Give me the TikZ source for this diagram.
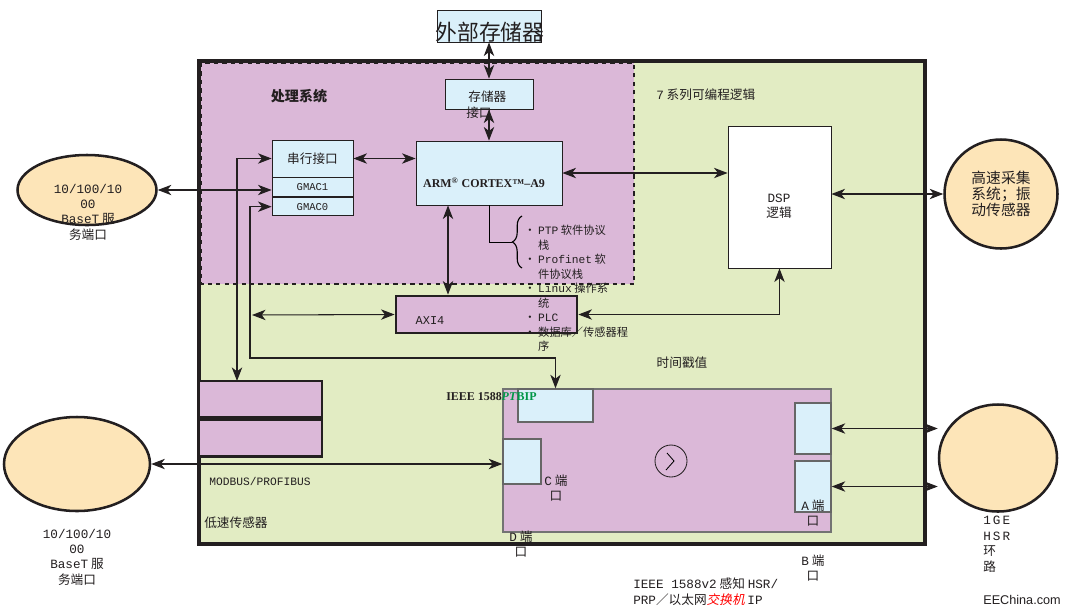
\documentclass[tikz,border=0pt]{standalone}
\usepackage{fontspec}
\setmainfont{Noto Sans CJK SC}
\newfontfamily\mono{Liberation Mono}
\newfontfamily\bserif{Liberation Serif}
\newfontfamily\wsans{Liberation Sans}
\newfontfamily\cjkslant[FakeSlant=0.2]{Noto Sans CJK SC}
\usetikzlibrary{arrows.meta, calc, shapes.geometric, decorations.pathreplacing}
\definecolor{pinkfill}{RGB}{219,184,216}
\definecolor{fpgagreen}{RGB}{226,236,195}
\definecolor{iceblue}{RGB}{218,240,250}
\definecolor{sandfill}{RGB}{253,229,184}
\definecolor{inkline}{RGB}{35,31,32}
\definecolor{ptpgreen}{RGB}{0,150,70}
\newcommand\upx{0.025cm}

\begin{document}
\begin{tikzpicture}[x=\upx, y=-\upx,
  every node/.style={inner sep=0pt, text=inkline},
  sz/.style 2 args={minimum width=#1*\upx, minimum height=#2*\upx},
  txt/.style={font=\fontsize{9pt}{11pt}\selectfont},
  small/.style={font=\fontsize{8pt}{10.3pt}\selectfont},
  bluebox/.style={draw=inkline, fill=iceblue, line width=0.6pt},
  greybox/.style={draw=black!60, fill=iceblue, line width=1pt},
  pinkbox/.style={draw=inkline, fill=pinkfill, line width=2pt},
  port/.style={ellipse, draw=inkline, fill=sandfill, line width=1.8pt},
  dbl/.style={{Stealth[length=3.4mm,width=2.6mm,inset=1mm]}-{Stealth[length=3.4mm,width=2.6mm,inset=1mm]}, line width=0.75pt, draw=inkline}]
  \fill[white] (0,0) rectangle (1065,614);
  \useasboundingbox (0,0) rectangle (1065,614);
  % FPGA fabric and processing system
  \draw[fill=fpgagreen, draw=inkline, line width=2.2pt] (199,61) rectangle (925,544);
  \draw[fill=pinkfill, draw=inkline, dashed, line width=1pt] (201,63) rectangle (634,284);
  \node[font=\bfseries\fontsize{10pt}{12pt}\selectfont] (pslabel) at (299,96) {处理系统};
  \node[txt, anchor=west] (pllabel) at (656,95) {{\mono 7} 系列可编程逻辑};

  \node[bluebox, sz={104}{32}] (extmem) at (489,26) {};
  \node[font=\fontsize{15.5pt}{16pt}\selectfont] (extmemtxt) at (490,32) {外部存储器};
  \node[bluebox, sz={88}{30}] (memif) at (489,94) {};
  \node[txt, align=left, anchor=north west] (memiftxt) at (466,91) {\,存储器\\接口};
  \node[bluebox, sz={146}{64}] (arm) at (489,173) {};
  \node[font=\bserif\bfseries\fontsize{8.5pt}{10pt}\selectfont] (armtxt) at (484,183) {ARM\textsuperscript{®} CORTEX™–A9};

  \node[bluebox, sz={81}{37}, txt] (sertop) at (312.5,158.5) {串行接口};
  \node[bluebox, sz={81}{19}, anchor=north, font=\mono\fontsize{7.5pt}{9pt}\selectfont] (gmac1) at (sertop.south) {GMAC1};
  \node[bluebox, sz={81}{18}, anchor=north, font=\mono\fontsize{7.5pt}{9pt}\selectfont] (gmac0) at (gmac1.south) {GMAC0};

  \node[draw=inkline, fill=white, line width=0.6pt, sz={103}{142}] (dsp) at (779.5,197) {};
  \node[txt, align=center] (dsptxt) at (779,206) {{\mono DSP}\\逻辑};
  \node[port, sz={113}{109}, align=center, font=\fontsize{10.5pt}{11.5pt}\selectfont] (hsc) at (1001,194) {高速采集\\系统；振\\动传感器};

  \node[pinkbox, sz={181}{37}] (axi) at (486.5,314.5) {};
  \node[font=\mono\fontsize{8.5pt}{10pt}\selectfont] (axitxt) at (430,321) {AXI4};

  \node[small, align=left, anchor=north west] (stacklist) at (524,225)
    {• {\mono PTP} 软件协议\\\phantom{• }栈\\• {\mono Profinet} 软\\\phantom{• }件协议栈\\• {\mono Linux} 操作系\\\phantom{• }统\\• {\mono PLC}\\• 数据库／传感器程\\\phantom{• }序};
  \node[txt] (tslabel) at (682,363) {时间戳值};

  % low speed sensors
  \node[pinkbox, sz={123}{36}] (lowa) at (260.5,399) {};
  \node[pinkbox, sz={123}{37}, anchor=north] (lowb) at (lowa.south) {};
  \node[font=\mono\fontsize{8pt}{10pt}\selectfont, anchor=west] (buslabel) at (209,481) {MODBUS/PROFIBUS};
  \node[txt, anchor=west] (lowlabel) at (204,523) {低速传感器};

  % service ports
  \node[port, sz={139}{70}] (tell) at (87,190) {};
  \node[align=center, font=\fontsize{9pt}{10.9pt}\selectfont] (telltxt) at (88,212) {{\mono 10/100/10}\\{\mono 00}\\{\mono BaseT} 服\\务端口};
  \node[port, sz={146}{94}] (lell) at (77,464) {};
  \node[align=center, font=\fontsize{9pt}{10.9pt}\selectfont] (lelltxt) at (77,557) {{\mono 10/100/10}\\{\mono 00}\\{\mono BaseT} 服\\务端口};

  % 1588 switch IP
  \node[draw=black!55, fill=pinkfill, line width=1pt, sz={328}{143}] (ptp) at (667,460.5) {};
  \node[greybox, sz={75}{33}] (ptptop) at (555.5,405.5) {};
  \node[greybox, sz={38}{45}] (portc) at (522,461.5) {};
  \node[greybox, sz={36}{51}] (porta1) at (813,428.5) {};
  \node[greybox, sz={36}{51}] (porta2) at (813,486.5) {};
  \node[draw=inkline, circle, minimum size=32*\upx, line width=0.6pt] (swc) at (671,461) {};
  \draw[line width=0.6pt] ($(swc)+(-4,-8)$) -- ($(swc)+(3,0)$) -- ($(swc)+(-5,9)$);
  \node[font=\bserif\bfseries\fontsize{8.5pt}{10pt}\selectfont, anchor=west] (ptplabel) at (446,397) {IEEE 1588\textcolor{ptpgreen}{\textit{PT}BIP}};
  \node[txt, align=center] (clabel) at (556,488) {{\mono C} 端\\口};
  \node[txt, align=center] (alabel) at (813,513) {{\mono A} 端\\口};
  \node[txt, align=center] (dlabel) at (521,544) {{\mono D} 端\\口};
  \node[txt, align=center] (blabel) at (813,568) {{\mono B} 端\\口};
  \node[txt, align=left, anchor=north west] (swlabel) at (633,578) {{\mono IEEE 1588v2} 感知 {\mono HSR/}\\{\mono PRP}／以太网\textcolor{red}{\cjkslant 交换机} {\mono IP}};

  \node[port, sz={118}{107}] (rell) at (998,458) {};
  \node[txt, align=left, anchor=north west] (rellabel) at (983,516) {{\mono 1\kern1.5pt G\kern1.5pt E}\\{\mono H\kern1.5pt S\kern1.5pt R}\\环\\路};
  \node[font=\wsans\fontsize{9pt}{11pt}\selectfont] (wm) at (1022,600) {EEChina.com};

  % connectors
  \draw[dbl] (extmem.south) -- (memif.north);
  \draw[dbl] (memif.south) -- (arm.north);
  \draw[dbl] (sertop.east) -- (sertop.east -| arm.west);
  \draw[dbl] (arm.east) -- (arm.east -| dsp.west);
  \draw[dbl] (hsc.west -| dsp.east) -- (hsc.west);
  \draw[dbl] (tell.east) -- (tell.east -| gmac1.west);
  \coordinate (lowtap) at (237,381);
  \draw[dbl] (sertop.west) -| (lowtap);
  \coordinate (tsbend) at (250,358);
  \draw[dbl] (gmac0.west) -| (tsbend) -| (ptptop.north);
  \coordinate (armtap) at ($(arm.south)+(-41,0)$);
  \draw[dbl] (armtap) -- (armtap |- axi.north);
  \coordinate (axiend) at (252,315);
  \draw[dbl] (axi.west) -- (axiend);
  \draw[dbl] (dsp.south) |- (axi.east);
  \draw[dbl] (lell.east) -- (lell.east -| portc.west);
  \draw[dbl] (porta1.east) -- (porta1.east -| rell.west);
  \draw[dbl] (porta2.east) -- (porta2.east -| rell.west);
  \coordinate (bracetip) at (512,242);
  \draw[line width=0.7pt] (arm.south) |- (bracetip);
  \draw[line width=0.8pt, decorate, decoration={brace, amplitude=2.4mm}] (522,268) -- (522,216);
\end{tikzpicture}
\end{document}
